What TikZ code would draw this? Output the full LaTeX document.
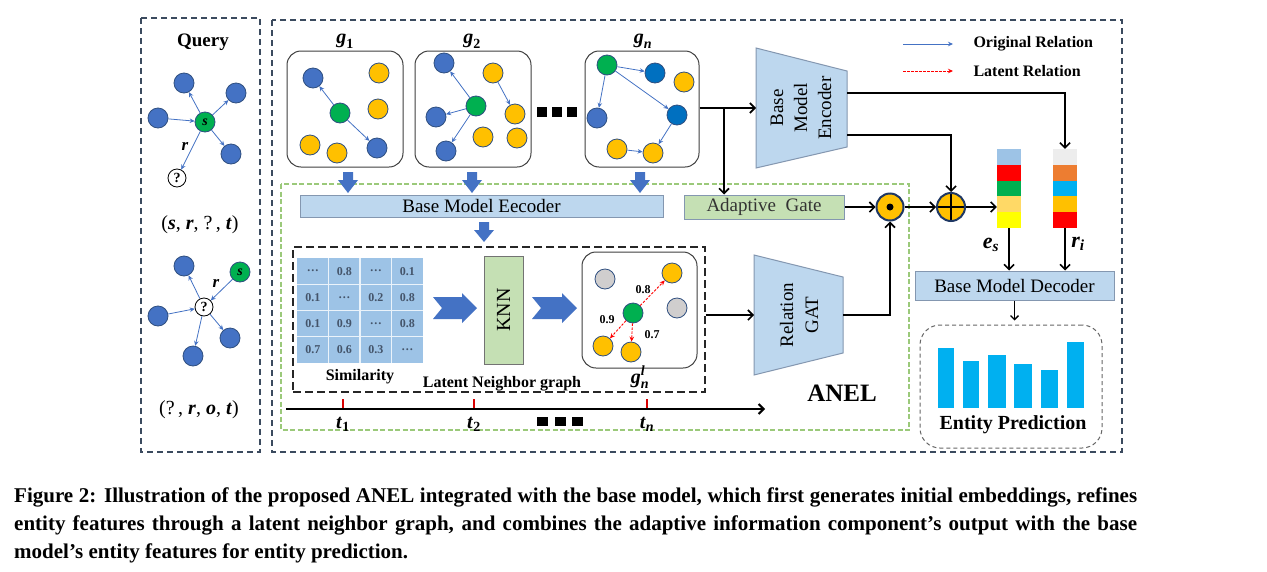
\documentclass[tikz,border=0pt]{standalone}
\usepackage{fontspec}
\usepackage{amsmath}
\usepackage{graphicx}
\setmainfont{Liberation Serif}
\usetikzlibrary{arrows.meta,calc}
\definecolor{nblue}{HTML}{4472C4}
\definecolor{dblue}{HTML}{0070C0}
\definecolor{nyel}{HTML}{FFC000}
\definecolor{ngreen}{HTML}{00B050}
\definecolor{ngray}{HTML}{D0CECE}
\definecolor{nbord}{HTML}{2F4F80}
\definecolor{lblue}{HTML}{BDD7EE}
\definecolor{boxbord}{HTML}{8497B0}
\definecolor{lgreen}{HTML}{C5E0B4}
\definecolor{dashgreen}{HTML}{9BC97A}
\definecolor{mblue}{HTML}{9DC3E6}
\definecolor{mtext}{HTML}{44546A}
\definecolor{barblue}{HTML}{00B0F0}
\definecolor{ca}{HTML}{9DC3E6}
\definecolor{cb}{HTML}{FF0000}
\definecolor{cc}{HTML}{00B050}
\definecolor{cd}{HTML}{FFD966}
\definecolor{ce}{HTML}{FFFF00}
\definecolor{cf}{HTML}{EDEDED}
\definecolor{cg}{HTML}{ED7D31}
\definecolor{ch}{HTML}{00B0F0}
\definecolor{ci}{HTML}{FFC000}
\definecolor{dkring}{HTML}{1F3864}
\definecolor{framec}{HTML}{3B4A5E}
\newcommand{\mi}[1]{\textbf{\textit{#1}}}
\newcommand{\fsz}[1]{\fontsize{#1}{#1}\selectfont}
\newcommand{\downblock}[3]{\fill[nblue] ({#1-5},#2) -- ({#1+5},#2) -- ({#1+5},{#2+8}) -- ({#1+10},{#2+8}) -- (#1,#3) -- ({#1-10},{#2+8}) -- ({#1-5},{#2+8}) -- cycle;}
\newcommand{\rightblock}[3]{\fill[nblue] (#1,{#3-11}) -- ({#2-15},{#3-11}) -- ({#2-15},{#3-15}) -- (#2,#3) -- ({#2-15},{#3+15}) -- ({#2-15},{#3+11}) -- (#1,{#3+11}) -- ({#1+9},#3) -- cycle;}
\begin{document}
\begin{tikzpicture}[x=1pt,y=-1pt,
  qn/.style={circle,minimum size=20pt,inner sep=0pt,draw=nbord,line width=0.8pt,font=\fsz{14}},
  bn/.style={qn,fill=nblue},
  dn/.style={qn,fill=dblue},
  yn/.style={qn,fill=nyel},
  gn/.style={qn,fill=ngreen},
  grn/.style={qn,fill=ngray},
  wn/.style={qn,fill=white,draw=black,minimum size=18pt},
  rel/.style={draw=nblue,line width=0.8pt,-{Stealth[length=5pt,width=4.5pt]}},
  latrel/.style={draw=red,line width=0.9pt,dash pattern=on 2.5pt off 1.5pt,-{Stealth[length=5pt,width=4.5pt]}},
  blk/.style={draw=black,line width=1.6pt,-{Straight Barb[length=5pt,width=10pt]}},
  gbox/.style={draw=black!75,line width=1pt,rounded corners=14pt,minimum width=116pt,minimum height=116pt,inner sep=0pt},
  lbox/.style={draw=boxbord,fill=lblue,line width=1pt,inner sep=0pt},
  lab/.style={font=\fsz{20}},
  bl/.style={font=\fsz{16}\bfseries},
  num/.style={font=\fsz{12}\bfseries,text=mtext},
]
\useasboundingbox (0,0) rectangle (1267,571);
\fill[white] (0,0) rectangle (1267,571);

% ---------------- outer frames
\draw[draw=framec,line width=1.1pt,dash pattern=on 6pt off 4pt] (141,18) rectangle (260,452);
\draw[draw=framec,line width=1.1pt,dash pattern=on 6pt off 4pt] (272,20) rectangle (1122,452);
\draw[draw=dashgreen,line width=2.5pt,dash pattern=on 5pt off 2.5pt] (281,184) rectangle (909,430);

% ---------------- Query panel
\node[font=\fsz{19}\bfseries] (qtitle) at (203,42) {Query};
\node[bn] (qa1) at (184,83) {};
\node[bn] (qa2) at (236,93) {};
\node[bn] (qa3) at (158,118) {};
\node[gn] (qs1) at (205,122) {\mi{s}};
\node[bn] (qa4) at (231,154) {};
\node[wn] (qq1) at (177,178) {\textbf{?}};
\draw[rel] (qs1) -- (qa1);
\draw[rel] (qs1) -- (qa2);
\draw[rel] (qa3) -- (qs1);
\draw[rel] (qs1) -- (qa4);
\draw[rel] (qs1) -- (qq1);
\node[font=\fsz{17}] (qr1) at (185,146) {\mi{r}};
\node[lab] (qt1) at (200,225) {(\mi{s}, \mi{r}, ?\,, \mi{t})};

\node[bn] (qb1) at (184,266) {};
\node[gn] (qs2) at (240,272) {\mi{s}};
\node[wn] (qq2) at (204,307) {\textbf{?}};
\node[bn] (qb2) at (158,316) {};
\node[bn] (qb3) at (230,338) {};
\node[bn] (qb4) at (193,356) {};
\draw[rel] (qq2) -- (qb1);
\draw[rel] (qs2) -- (qq2);
\draw[rel] (qb2) -- (qq2);
\draw[rel] (qq2) -- (qb3);
\draw[rel] (qq2) -- (qb4);
\node[font=\fsz{17}] (qr2) at (216,283) {\mi{r}};
\node[lab] (qt2) at (199,410) {(?\,, \mi{r}, \mi{o}, \mi{t})};

% ---------------- snapshot graphs
\node[gbox] (g1) at (345,109) {};
\node[gbox] (g2) at (473,109) {};
\node[gbox,minimum width=114pt] (gn) at (642,109) {};
\node[lab] (g1l) at (345,41) {$\mi{g}_{\textbf{1}}$};
\node[lab] (g2l) at (472,41) {$\mi{g}_{\textbf{2}}$};
\node[lab] (gnl) at (643,41) {$\mi{g}_{\mi{n}}$};

\node[bn] (a1) at (313,78) {};
\node[yn] (a2) at (379,73) {};
\node[gn] (a3) at (340,113) {};
\node[yn] (a4) at (378,109) {};
\node[yn] (a5) at (310,145) {};
\node[yn] (a6) at (337,153) {};
\node[bn] (a7) at (377,148) {};
\draw[rel] (a3) -- (a1);
\draw[rel] (a3) -- (a7);

\node[bn] (b1) at (444,63) {};
\node[yn] (b2) at (493,73) {};
\node[gn] (b3) at (476,106) {};
\node[yn] (b4) at (515,114) {};
\node[bn] (b5) at (436,117) {};
\node[yn] (b6) at (483,137) {};
\node[yn] (b7) at (517,138) {};
\node[bn] (b8) at (446,151) {};
\draw[rel] (b3) -- (b1);
\draw[rel] (b3) -- (b5);
\draw[rel] (b3) -- (b8);
\draw[rel] (b2) -- (b4);

\node[gn] (c1) at (607,65) {};
\node[dn] (c2) at (655,73) {};
\node[yn] (c3) at (684,82) {};
\node[bn] (c4) at (597,118) {};
\node[dn] (c5) at (677,115) {};
\node[yn] (c6) at (617,149) {};
\node[yn] (c7) at (653,153) {};
\draw[rel] (c1) -- (c2);
\draw[rel] (c1) -- (c4);
\draw[rel] (c1) -- (c5);
\draw[rel] (c5) -- (c7);
\draw[rel] (c6) -- (c7);

\foreach \xx in {542,557,572} \fill[black] ({\xx-5},107) rectangle ({\xx+5},117);

% ---------------- legend
\coordinate (lg1a) at (903,44);
\coordinate (lg1b) at (953,44);
\coordinate (lg2a) at (903,71);
\coordinate (lg2b) at (953,71);
\draw[rel] (lg1a) -- (lg1b);
\draw[latrel] (lg2a) -- (lg2b);
\node[bl,anchor=west] (lgt1) at (970,44) {Original Relation};
\node[bl,anchor=west] (lgt2) at (970,71) {Latent Relation};

% ---------------- Base model encoder
\draw[draw=boxbord,fill=lblue,line width=1pt] (756,48) -- (847,71) -- (847,147) -- (756,168) -- cycle;
\node[rotate=90,align=center,font=\fontsize{19}{24}\selectfont] (enc) at (801,108) {Base\\Model\\Encoder};
\coordinate (encW) at (756,108);
\coordinate (encE1) at (847,93);
\coordinate (encE2) at (847,135);
\coordinate (br) at (724,108);

% ---------------- ANEL inner
\node[lbox,minimum width=363pt,minimum height=22pt,font=\fsz{19}] (bme) at (481.5,206) {Base Model Eecoder};
\downblock{348}{172}{193}
\downblock{472}{172}{193}
\downblock{640}{172}{193}
\downblock{484}{222}{242}

\node[draw=boxbord,fill=lgreen,line width=1pt,minimum width=160pt,minimum height=24pt,inner sep=0pt,font=\fsz{19},text=black!80] (gate) at (764,207) {Adaptive\ \ Gate};
\node[circle,fill=nyel,draw=dkring,line width=2pt,minimum size=27pt,inner sep=0pt] (odot) at (890,207) {};
\fill[black] (odot.center) circle (3.5pt);
\node[circle,fill=nyel,draw=dkring,line width=2pt,minimum size=28pt,inner sep=0pt,
  path picture={\draw[black,line width=1.6pt] (path picture bounding box.north) -- (path picture bounding box.south) (path picture bounding box.west) -- (path picture bounding box.east);}] (oplus) at (951,207) {};

% latent neighbor graph panel
\node[draw=black!85,line width=1.2pt,dash pattern=on 8pt off 4pt,minimum width=412pt,minimum height=145pt,inner sep=0pt] (lat) at (499,319.5) {};
\fill[mblue] (297,258) rectangle (423,363);
\foreach \i in {1,2,3} {
  \draw[white!80!mblue,line width=1.2pt] ({297+\i*31.5},258) -- ({297+\i*31.5},363);
  \draw[white!80!mblue,line width=1.2pt] (297,{258+\i*26.25}) -- (423,{258+\i*26.25});
}
\node[minimum width=126pt,minimum height=105pt,inner sep=0pt] (sim) at (360,310.5) {};
\foreach \v [count=\k from 0] in {\dots,0.8,\dots,0.1,0.1,\dots,0.2,0.8,0.1,0.9,\dots,0.8,0.7,0.6,0.3,\dots} {
  \pgfmathtruncatemacro{\cc}{mod(\k,4)}
  \pgfmathtruncatemacro{\rr}{int(\k/4)}
  \node[num] at ({297+15.75+\cc*31.5},{258+13.1+\rr*26.25}) {\v};
}
\node[bl] (simlab) at (360,377) {Similarity};
\node[bl] (latlab) at (502,384) {Latent Neighbor graph};

\rightblock{433}{477}{308}
\rightblock{532}{577}{308}

\node[draw=black!55,fill=lgreen,line width=1pt,minimum width=39pt,minimum height=108pt,inner sep=0pt] (knn) at (503.5,310) {};
\node[rotate=90,font=\fsz{20}] (knnt) at (knn.center) {KNN};

\node[gbox,minimum width=115pt] (gl) at (639.5,310) {};
\node[grn] (l1) at (605,279) {};
\node[yn] (l2) at (672,273) {};
\node[gn] (l3) at (633,313) {};
\node[grn] (l4) at (677,308) {};
\node[yn] (l5) at (603,346) {};
\node[yn] (l6) at (631,352) {};
\draw[latrel] (l3) -- (l2);
\draw[latrel] (l3) -- (l5);
\draw[latrel] (l3) -- (l6);
\node[font=\fsz{12}\bfseries] (w1) at (643,290) {0.8};
\node[font=\fsz{12}\bfseries] (w2) at (607,320) {0.9};
\node[font=\fsz{12}\bfseries] (w3) at (652,335) {0.7};
\node[lab] (gll) at (640,377) {$\mi{g}_{\mi{n}}^{\mi{l}}$};

% time axis
\coordinate (ta) at (286,409);
\coordinate (tb) at (765,409);
\draw[draw=black,line width=2pt,-{Straight Barb[length=5pt,width=10pt]}] (ta) -- (tb);
\foreach \xx/\tl in {343/$\mi{t}_{\textbf{1}}$,474/$\mi{t}_{\textbf{2}}$,647/$\mi{t}_{\mi{n}}$} {
  \draw[red!85!black,line width=1.6pt] (\xx,399) -- (\xx,408);
  \node[lab] at (\xx,424) {\tl};
}
\foreach \xx in {542,560,577.5} \fill[black] ({\xx-5.5},417) rectangle ({\xx+5.5},426);

% Relation GAT
\draw[draw=boxbord,fill=lblue,line width=1pt] (754,255) -- (843,277) -- (843,353) -- (754,375) -- cycle;
\node[rotate=90,align=center,font=\fontsize{19}{25}\selectfont] (gat) at (799,315) {Relation\\GAT};
\coordinate (gatW) at (754,315);
\coordinate (gatE) at (843,315);
\node[font=\fsz{25}\bfseries] (anel) at (842,393) {ANEL};

% ---------------- right part
\node[minimum width=24pt,minimum height=79pt,inner sep=0pt] (es) at (1009,188.5) {};
\node[minimum width=24pt,minimum height=79pt,inner sep=0pt] (ri) at (1065,188.5) {};
\foreach \c [count=\i from 0] in {ca,cb,cc,cd,ce}
  \fill[\c] (997,{149+\i*15.8}) rectangle (1021,{149+(\i+1)*15.8});
\foreach \c [count=\i from 0] in {cf,cg,ch,ci,cb}
  \fill[\c] (1053,{149+\i*15.8}) rectangle (1077,{149+(\i+1)*15.8});
\node[font=\fsz{22}] (esl) at (991,245) {$\mi{e}_{\mi{s}}$};
\node[font=\fsz{22}] (ril) at (1078,244) {$\mi{r}_{\mi{i}}$};

\node[lbox,minimum width=199pt,minimum height=29pt,font=\fsz{19}] (dec) at (1014.5,285.5) {Base Model Decoder};
\node[draw=black!60,line width=1pt,dash pattern=on 4pt off 3pt,rounded corners=20pt,minimum width=182pt,minimum height=123pt,inner sep=0pt] (pred) at (1011,386.5) {};
\foreach \xa/\xb/\yt in {938/954/348,963/979/361,988/1006/355,1014/1032/364,1041/1058/370,1067/1084/342}
  \fill[barblue] (\xa,\yt) rectangle (\xb,408);
\node[font=\fsz{20}\bfseries] (predl) at (1013,425) {Entity Prediction};

% ---------------- connectors
\draw[blk] (gn.east |- encW) -- (encW);
\draw[blk] (br) -- (br |- gate.north);
\draw[blk] (encE1) -- (encE1 -| ri.north) -- (ri.north);
\draw[blk] (encE2) -- (encE2 -| oplus.north) -- (oplus.north);
\draw[blk] (gate.east) -- (odot.west);
\draw[blk] (odot.east) -- (oplus.west);
\draw[blk] (oplus.east) -- (oplus.east -| es.west);
\draw[blk] (gatW -| lat.east) -- (gatW);
\draw[blk] (gatE) -- (gatE -| odot.south) -- (odot.south);
\draw[blk] (es.south) -- (es.south |- dec.north);
\draw[blk] (ri.south) -- (ri.south |- dec.north);
\draw[draw=black,line width=1.4pt,-{Straight Barb[length=4pt,width=8pt]},shorten >=4pt] (dec.south) -- (dec.south |- pred.north);

% ---------------- caption
\node[anchor=base west,inner sep=0pt] (cap1) at (14,502) {\makebox[1123pt][s]{\fsz{21}\bfseries Figure 2: Illustration of the proposed ANEL integrated with the base model, which first generates initial embeddings, refines}};
\node[anchor=base west,inner sep=0pt] (cap2) at (14,530) {\makebox[1123pt][s]{\fsz{21}\bfseries entity features through a latent neighbor graph, and combines the adaptive information component’s output with the base}};
\node[anchor=base west,inner sep=0pt] (cap3) at (14,558) {\fsz{21}\bfseries model’s entity features for entity prediction.};
\end{tikzpicture}
\end{document}
